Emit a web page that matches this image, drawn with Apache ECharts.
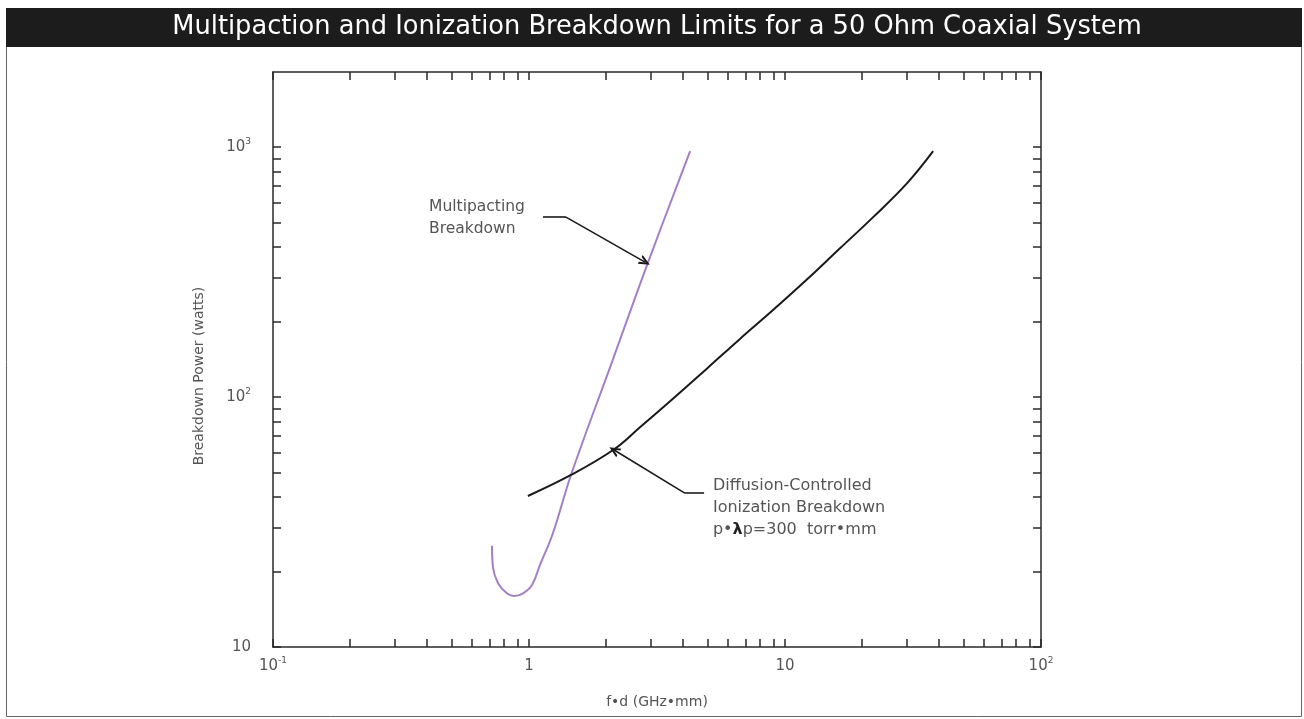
<!DOCTYPE html>
<html>
<head>
<meta charset="utf-8">
<script src="https://cdn.jsdelivr.net/npm/echarts@6/dist/echarts.min.js"></script>
<style>html,body{margin:0;padding:0;background:#fff}#c{width:1304px;height:719px}</style>
</head>
<body>
<div id="c"></div>
<script>
// ---- data ----
const titleText = 'Multipaction and Ionization Breakdown Limits for a 50 Ohm Coaxial System';
const xAxisName = 'f\u2022d (GHz\u2022mm)';
const yAxisName = 'Breakdown Power (watts)';

const multipactX = [0.717, 0.723, 0.757, 0.820, 0.874, 0.948, 1.027, 1.104, 1.241, 1.459, 2.13, 2.92, 4.26];
const multipactY = [25.4, 20.9, 18.0, 16.4, 16.0, 16.4, 17.7, 21.3, 28.6, 48.8, 142, 347, 964];

const diffusionX = [0.99, 1.459, 2.13, 2.72, 3.65, 4.95, 6.67, 8.98, 12.2, 16.4, 22.1, 30.0, 37.9];
const diffusionY = [40.2, 48.8, 61.4, 75.9, 98.5, 130, 171, 223, 296, 394, 525, 718, 964];

const xLabelValues = [0.1, 1, 10, 100];
const xLabelBase = ['10', '1', '10', '10'];
const xLabelExp = ['-1', '', '', '2'];
const yLabelValues = [10, 100, 1000];
const yLabelBase = ['10', '10', '10'];
const yLabelExp = ['', '2', '3'];

const xTickValues = [0.1,0.2,0.3,0.4,0.5,0.6,0.7,0.8,0.9,1,2,3,4,5,6,7,8,9,10,20,30,40,50,60,70,80,90,100];
const yTickValues = [10,20,30,40,50,60,70,80,90,100,200,300,400,500,600,700,800,900,1000];

// annotation anchors in data units
const multipactLabelAt = [0.407, 522];
const multipactLabel = 'Multipacting\nBreakdown';
const multipactLeader = [[1.134, 525], [1.395, 525], [2.84, 347]];
const diffusionLabelAt = [5.23, 36.1];
const diffusionLeader = [[4.83, 41.3], [4.06, 41.3], [2.15, 61.4]];

// ---- chart ----
const FONT = 'DejaVu Sans';
const GREY = '#555';
const AX = '#2a2a2a';
const chevron = 'path://M0,10 L5,0 L10,10 L7.8,10 L5,4.4 L2.2,10 Z';

function pairs(xs, ys) { return xs.map((x, i) => [x, ys[i]]); }
function findIdx(arr, v) {
  let best = 0, bd = Infinity;
  arr.forEach((a, i) => { const d = Math.abs(Math.log10(a) - Math.log10(v)); if (d < bd) { bd = d; best = i; } });
  return best;
}
const rich = {
  b: { fontFamily: FONT, fontSize: 15, color: GREY, lineHeight: 20 },
  s: { fontFamily: FONT, fontSize: 9, color: GREY, verticalAlign: 'top', lineHeight: 11 }
};
function xFmt(v) { const i = findIdx(xLabelValues, v); return '{b|' + xLabelBase[i] + '}' + (xLabelExp[i] ? '{s|' + xLabelExp[i] + '}' : ''); }
function yFmt(v) { const i = findIdx(yLabelValues, v); return '{b|' + yLabelBase[i] + '}' + (yLabelExp[i] ? '{s|' + yLabelExp[i] + '}' : ''); }

const lineStyleAx = { color: AX, width: 1.5 };
function xAxisDef(pos, labels) {
  return {
    type: 'log', logBase: 10, min: 0.1, max: 100, position: pos,
    axisLine: { show: true, onZero: false, lineStyle: lineStyleAx },
    axisTick: { show: true, inside: true, length: 8, customValues: xTickValues, lineStyle: lineStyleAx },
    axisLabel: { show: labels, customValues: xLabelValues, formatter: xFmt, rich: rich, margin: 9 },
    splitLine: { show: false }, minorTick: { show: false },
    name: labels ? xAxisName : '', nameLocation: 'middle', nameGap: 48,
    nameTextStyle: { fontFamily: FONT, fontSize: 14, color: GREY }
  };
}
function yAxisDef(pos, labels) {
  return {
    type: 'log', logBase: 10, min: 10, max: 2000, position: pos,
    axisLine: { show: true, onZero: false, lineStyle: lineStyleAx },
    axisTick: { show: true, inside: true, length: 8, customValues: yTickValues, lineStyle: lineStyleAx },
    axisLabel: { show: labels, customValues: yLabelValues, formatter: yFmt, rich: rich, margin: 22 },
    splitLine: { show: false }, minorTick: { show: false }
  };
}

const chart = echarts.init(document.getElementById('c'), null, { renderer: 'canvas' });
chart.setOption({
  animation: false,
  backgroundColor: '#fff',
  grid: { left: 273, right: 263, top: 72, bottom: 72, containLabel: false },
  xAxis: [xAxisDef('bottom', true), xAxisDef('top', false)],
  yAxis: [yAxisDef('left', true), yAxisDef('right', false)],
  graphic: [
    { type: 'rect', shape: { x: 6.5, y: 8.5, width: 1295, height: 708 }, style: { fill: 'none', stroke: '#666', lineWidth: 1 }, z: 0, silent: true },
    { type: 'rect', shape: { x: 6, y: 8, width: 1296, height: 39 }, style: { fill: '#1c1c1c' }, z: 1, silent: true },
    { type: 'text', x: 657, y: 27.5, style: { text: titleText, fill: '#fff', font: '25.7px "' + FONT + '"', textAlign: 'center', textVerticalAlign: 'middle' }, z: 2, silent: true },
    { type: 'text', x: 199, y: 376, rotation: Math.PI / 2, style: { text: yAxisName, fill: GREY, font: '14px "' + FONT + '"', textAlign: 'center', textVerticalAlign: 'middle' }, z: 2, silent: true }
  ],
  series: [
    {
      name: 'Multipacting', type: 'line', xAxisIndex: 0, yAxisIndex: 0,
      data: pairs(multipactX, multipactY), showSymbol: false, symbol: 'none',
      smooth: 0.4,
      lineStyle: { color: '#a37fc8', width: 2 }, z: 3,
      markPoint: {
        symbol: 'circle', symbolSize: 0,
        label: { show: true, position: 'right', distance: 0, formatter: multipactLabel, fontFamily: FONT, fontSize: 15.5, lineHeight: 22, color: GREY, align: 'left' },
        data: [{ coord: multipactLabelAt }]
      },
      markLine: {
        silent: true, animation: false, symbolSize: [10, 11],
        label: { show: false },
        lineStyle: { color: '#1a1a1a', width: 1.6, type: 'solid' },
        data: [
          [{ coord: multipactLeader[0], symbol: 'none' }, { coord: multipactLeader[1], symbol: 'none' }],
          [{ coord: multipactLeader[1], symbol: 'none' }, { coord: multipactLeader[2], symbol: chevron }]
        ]
      }
    },
    {
      name: 'Diffusion', type: 'line', xAxisIndex: 0, yAxisIndex: 0,
      data: pairs(diffusionX, diffusionY), showSymbol: false, symbol: 'none',
      smooth: 0.4,
      lineStyle: { color: '#1a1a1a', width: 2 }, z: 4,
      markPoint: {
        symbol: 'circle', symbolSize: 0,
        label: {
          show: true, position: 'right', distance: 0, align: 'left',
          formatter: '{t|Diffusion-Controlled}\n{t|Ionization Breakdown}\n{t|p\u2022}{l|\u03bb}{t|p=300  torr\u2022mm}',
          rich: {
            t: { fontFamily: FONT, fontSize: 16, lineHeight: 22, color: GREY },
            l: { fontFamily: FONT, fontSize: 16, lineHeight: 22, color: '#222', fontWeight: 'bold' }
          }
        },
        data: [{ coord: diffusionLabelAt }]
      },
      markLine: {
        silent: true, animation: false, symbolSize: [10, 11],
        label: { show: false },
        lineStyle: { color: '#1a1a1a', width: 1.6, type: 'solid' },
        data: [
          [{ coord: diffusionLeader[0], symbol: 'none' }, { coord: diffusionLeader[1], symbol: 'none' }],
          [{ coord: diffusionLeader[1], symbol: 'none' }, { coord: diffusionLeader[2], symbol: chevron }]
        ]
      }
    }
  ]
});
</script>
</body>
</html>
